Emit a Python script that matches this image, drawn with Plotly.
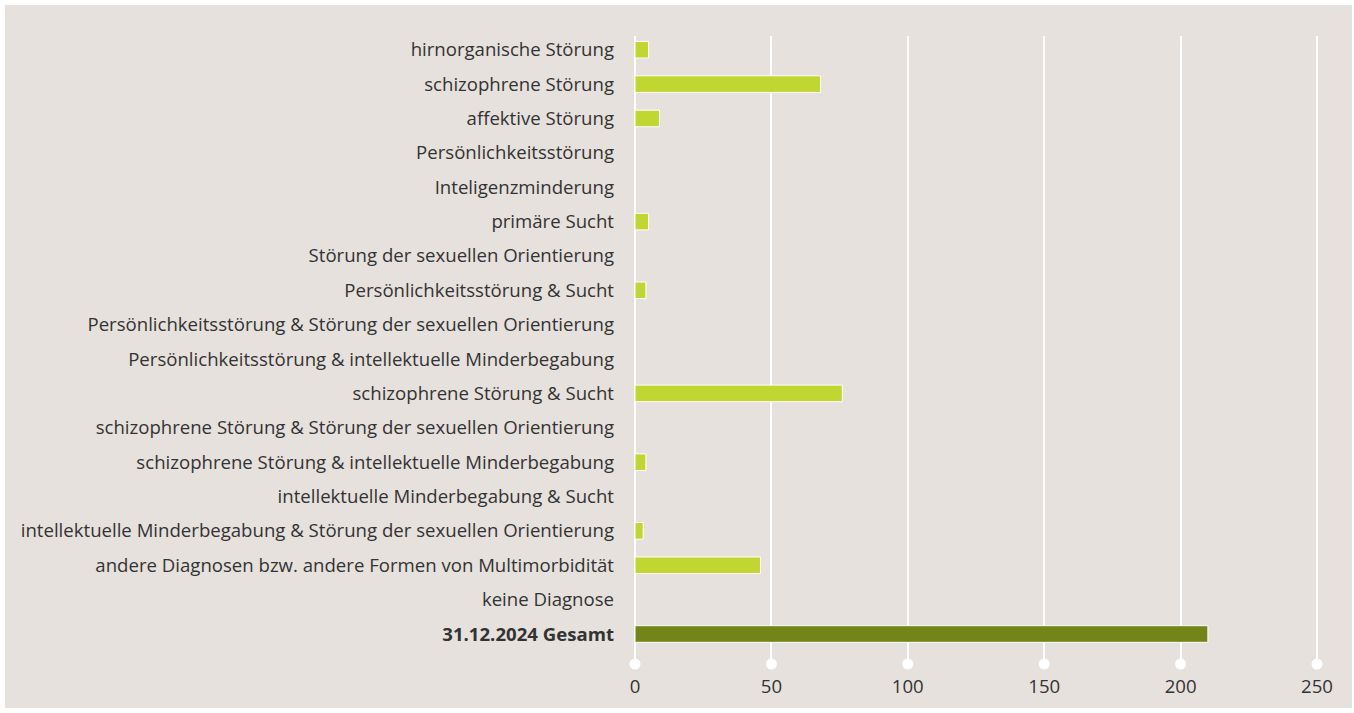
import plotly.graph_objects as go

categories = [
    "hirnorganische Störung",
    "schizophrene Störung",
    "affektive Störung",
    "Persönlichkeitsstörung",
    "Inteligenzminderung",
    "primäre Sucht",
    "Störung der sexuellen Orientierung",
    "Persönlichkeitsstörung & Sucht",
    "Persönlichkeitsstörung & Störung der sexuellen Orientierung",
    "Persönlichkeitsstörung & intellektuelle Minderbegabung",
    "schizophrene Störung & Sucht",
    "schizophrene Störung & Störung der sexuellen Orientierung",
    "schizophrene Störung & intellektuelle Minderbegabung",
    "intellektuelle Minderbegabung & Sucht",
    "intellektuelle Minderbegabung & Störung der sexuellen Orientierung",
    "andere Diagnosen bzw. andere Formen von Multimorbidität",
    "keine Diagnose",
    "31.12.2024 Gesamt",
]
values = [5, 68, 9, 0, 0, 5, 0, 4, 0, 0, 76, 0, 4, 0, 3, 46, 0, 210]
x_ticks = [0, 50, 100, 150, 200, 250]

LIGHT = "#bfd730"
DARK = "#738419"
BG = "#e6e1dd"
TXT = "#333333"

W, H = 1354, 713
L, R, T, B = 635, 35, 36, 49
pw, ph = W - L - R, H - T - B
xmax = pw / 2.728

colors = [DARK if c.endswith("Gesamt") else LIGHT for c in categories]
ticktext = [f"<b>{c}</b>" if c.endswith("Gesamt") else c for c in categories]

fig = go.Figure()
fig.add_trace(go.Bar(
    y=categories, x=values, orientation="h",
    marker=dict(color=colors, line=dict(color="white", width=1)),
    hoverinfo="x+y", showlegend=False,
))
fig.add_trace(go.Scatter(
    x=x_ticks, y=[0] * len(x_ticks), yaxis="y2", mode="markers",
    marker=dict(color="white", size=11), cliponaxis=False,
    showlegend=False, hoverinfo="skip",
))

def px_x(p):
    return (p - L) / pw

def px_y(p):
    return (H - B - p) / ph

fig.update_layout(
    width=W, height=H,
    margin=dict(l=L, r=R, t=T, b=B, pad=0),
    paper_bgcolor="white",
    plot_bgcolor="rgba(0,0,0,0)",
    font=dict(family="Open Sans, Lato, sans-serif", size=18.6, color=TXT),
    bargap=0.517,
    shapes=[dict(type="rect", xref="paper", yref="paper",
                 x0=px_x(5), x1=px_x(1352), y0=px_y(708), y1=px_y(5),
                 fillcolor=BG, line=dict(width=0), layer="below")],
    xaxis=dict(range=[0, xmax], tickvals=x_ticks, showgrid=True,
               gridcolor="white", gridwidth=1.5, zeroline=True,
               zerolinecolor="white", zerolinewidth=1.5, showline=False,
               ticks="", ticklabelstandoff=9, fixedrange=True),
    yaxis=dict(type="category", categoryorder="array", categoryarray=categories,
               tickvals=categories, ticktext=ticktext,
               range=[17.873, -0.4], showgrid=False, ticks="",
               ticklabelstandoff=20, fixedrange=True),
    yaxis2=dict(overlaying="y", range=[0, 1], visible=False, fixedrange=True),
)

fig.write_html("out.html", config={"displayModeBar": False},
               post_script="document.body.style.margin='0';")
